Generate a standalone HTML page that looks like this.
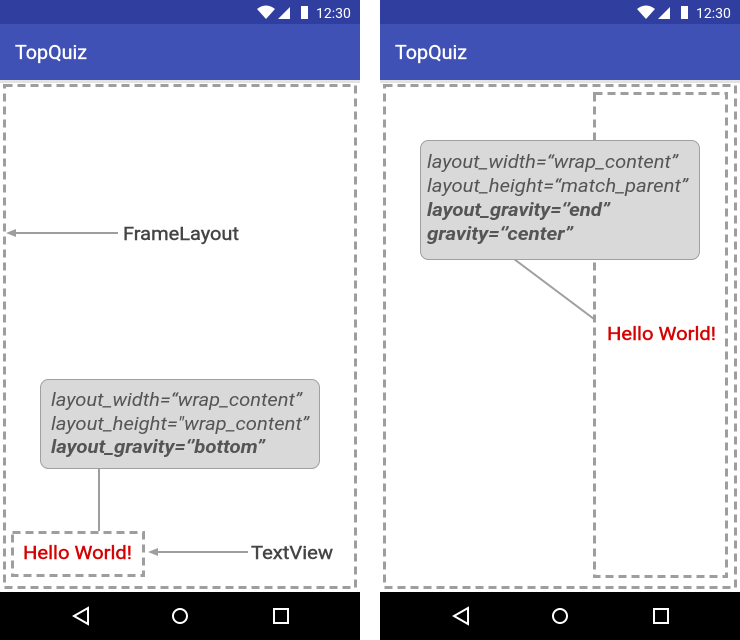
<!DOCTYPE html>
<html><head><style>body{margin:0;background:#fff}svg{display:block}</style></head><body>
<svg width="740" height="640" xmlns="http://www.w3.org/2000/svg" font-family="Roboto, 'Liberation Sans', sans-serif">
<g id="phone">
<rect x="0" y="0" width="360" height="24" fill="#303f9f"/>
<rect x="0" y="24" width="360" height="56" fill="#3f51b5"/>
<rect x="0" y="80" width="360" height="3" fill="#d0d0d0" opacity="0.6"/>
<text x="15" y="59" font-size="19" fill="#fff" stroke="#fff" stroke-width="0.3" textLength="72" lengthAdjust="spacingAndGlyphs">TopQuiz</text>
<path d="M257 9 Q266 2 275 9 L266 19 Z" fill="#fff"/>
<path d="M278 19 L290 7 L290 19 Z" fill="#fff"/>
<rect x="301" y="6" width="7" height="13" fill="#fff"/>
<text x="316" y="18" font-size="14" fill="#fff">12:30</text>
<rect x="0" y="592" width="360" height="48" fill="#000"/>
<path d="M88 608 L74 616 L88 624 Z" fill="none" stroke="#fff" stroke-width="2"/>
<circle cx="180" cy="616" r="7" fill="none" stroke="#fff" stroke-width="2"/>
<rect x="274" y="609" width="14" height="14" fill="none" stroke="#fff" stroke-width="2"/>
</g>
<use href="#phone" x="380"/>
<g fill="none" stroke="#9e9e9e" stroke-width="3" stroke-dasharray="8,5">
<rect x="4.5" y="85.5" width="351" height="502"/>
<rect x="384.5" y="85.5" width="351" height="502"/>
<rect x="12.5" y="532.5" width="131" height="43"/>
<rect x="594.5" y="93.5" width="132" height="483"/>
</g>
<g stroke="#9e9e9e" stroke-width="2" fill="none">
<line x1="12" y1="233" x2="118" y2="233"/>
<line x1="99" y1="468" x2="99" y2="531"/>
<line x1="156" y1="552" x2="248" y2="552"/>
<line x1="514" y1="259" x2="594" y2="319"/>
</g>
<path d="M6 233 L16 229 L16 237 Z" fill="#9e9e9e"/>
<path d="M148 552 L158 548 L158 556 Z" fill="#9e9e9e"/>
<g font-size="18" fill="#444" stroke="#444" stroke-width="0.4">
<text x="123" y="240" textLength="116" lengthAdjust="spacingAndGlyphs">FrameLayout</text>
<text x="251" y="559" textLength="82" lengthAdjust="spacingAndGlyphs">TextView</text>
</g>
<rect x="40.5" y="379.5" width="279" height="89" rx="8" fill="#d9d9d9" stroke="#a0a0a0"/>
<g font-size="18" fill="#555" font-style="italic">
<text x="51" y="406" textLength="251" lengthAdjust="spacingAndGlyphs">layout_width=“wrap_content”</text>
<text x="51" y="430" textLength="258" lengthAdjust="spacingAndGlyphs">layout_height="wrap_content”</text>
<text x="51" y="453" font-weight="bold" textLength="214" lengthAdjust="spacingAndGlyphs">layout_gravity=‘’bottom”</text>
</g>
<g font-size="18" fill="#d50000" stroke="#d50000" stroke-width="0.4">
<text x="23" y="559" textLength="109" lengthAdjust="spacingAndGlyphs">Hello World!</text>
<text x="607" y="340" textLength="109" lengthAdjust="spacingAndGlyphs">Hello World!</text>
</g>
<rect x="420.5" y="140.5" width="279" height="119" rx="8" fill="#d9d9d9" stroke="#a0a0a0"/>
<g font-size="18" fill="#555" font-style="italic">
<text x="427" y="168" textLength="251" lengthAdjust="spacingAndGlyphs">layout_width=“wrap_content”</text>
<text x="427" y="192" textLength="261" lengthAdjust="spacingAndGlyphs">layout_height=“match_parent”</text>
<text x="427" y="216" font-weight="bold" textLength="183" lengthAdjust="spacingAndGlyphs">layout_gravity=‘’end”</text>
<text x="427" y="240" font-weight="bold" textLength="146" lengthAdjust="spacingAndGlyphs">gravity=‘’center”</text>
</g>
</svg>
</body></html>
